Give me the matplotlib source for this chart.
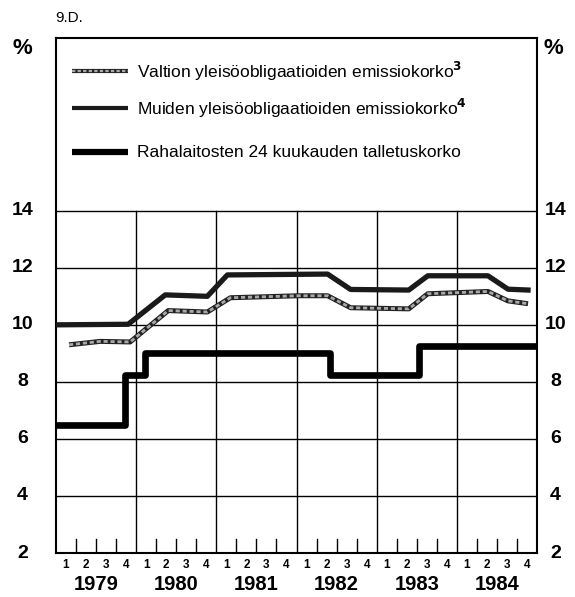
import matplotlib
matplotlib.use("Agg")
import matplotlib.pyplot as plt
import numpy as np

plt.rcParams['font.family'] = ['Liberation Sans', 'DejaVu Sans']

# x positions are in quarters counted from the start of 1979
years = ['1979', '1980', '1981', '1982', '1983', '1984']
quarter_labels = ['1', '2', '3', '4']

valtion_x = [0.65, 2.2, 3.7, 5.6, 7.55, 8.7, 12.1, 13.55, 14.7, 17.6, 18.55, 21.55, 22.55, 23.55]
valtion_y = [9.3, 9.42, 9.4, 10.5, 10.45, 10.95, 11.02, 11.02, 10.6, 10.56, 11.09, 11.17, 10.84, 10.74]

muiden_x = [0, 3.6, 5.45, 7.55, 8.55, 13.55, 14.7, 17.6, 18.55, 21.55, 22.55, 23.55]
muiden_y = [10.0, 10.02, 11.05, 11.0, 11.75, 11.78, 11.24, 11.22, 11.72, 11.72, 11.25, 11.22]

raha_x = [0, 3.45, 4.45, 13.65, 18.1, 24]
raha_y = [6.5, 8.25, 9.0, 8.25, 9.25, 9.25]

labels = ['Valtion yleisöobligaatioiden emissiokorko$^{\\mathbf{3}}$',
          'Muiden yleisöobligaatioiden emissiokorko$^{\\mathbf{4}}$',
          'Rahalaitosten 24 kuukauden talletuskorko']
yticks = [2, 4, 6, 8, 10, 12, 14]

fig = plt.figure(figsize=(5.75, 5.97), dpi=100)
ax = fig.add_axes([0.0974, 0.0737, 0.8366, 0.8623])
ymax = 20.05
ax.set_xlim(0, 24)
ax.set_ylim(2, ymax)

# grid
for y in yticks[1:]:
    ax.axhline(y, color='black', lw=1.0, zorder=1)
for i in range(1, len(years)):
    ax.plot([i * 4, i * 4], [2, 14], color='black', lw=1.0, zorder=1)
for i in range(len(years)):
    for q in range(1, 4):
        ax.plot([i * 4 + q, i * 4 + q], [2, 2.5], color='black', lw=1.0, zorder=1)

# series
ax.plot(valtion_x, valtion_y, color='#222222', lw=3.6, solid_capstyle='butt', zorder=3)
ax.plot(valtion_x, valtion_y, color='#a8a8a8', lw=2.0, ls=(0, (1.5, 1)), zorder=4)
ax.plot(muiden_x, muiden_y, color='#1a1a1a', lw=3.8, zorder=3)
ax.step(raha_x, raha_y, where='post', color='black', lw=4.8, zorder=5)

# legend drawn by hand inside the box
leg_y = [18.9, 17.6, 16.05]
for k, ly in enumerate(leg_y):
    xs = [0.8, 3.6]
    if k == 0:
        ax.plot(xs, [ly, ly], color='#222222', lw=3.0, solid_capstyle='butt')
        ax.plot(xs, [ly, ly], color='#a8a8a8', lw=1.6, ls=(0, (1.5, 1)))
    elif k == 1:
        ax.plot(xs, [ly, ly], color='#1a1a1a', lw=3.0, solid_capstyle='butt')
    else:
        ax.plot(xs, [ly, ly], color='black', lw=4.5, solid_capstyle='butt')
    ax.text(4.05, ly, labels[k], fontsize=12.5, va='center', ha='left')

for s in ax.spines.values():
    s.set_linewidth(1.5)
ax.set_xticks([])
ax.set_yticks([])

# tick labels on both sides
for y in yticks:
    ax.text(-0.07, y, str(y), transform=ax.get_yaxis_transform(), ha='center', va='center',
            fontsize=14, fontweight='bold')
    ax.text(1.038, y, str(y), transform=ax.get_yaxis_transform(), ha='center', va='center',
            fontsize=14, fontweight='bold')
fig.text(22 / 575, 1 - 48 / 597, '%', ha='center', va='center', fontsize=16, fontweight='bold')
fig.text(553 / 575, 1 - 48 / 597, '%', ha='center', va='center', fontsize=16, fontweight='bold')
fig.text(55 / 575, 1 - 18 / 597, '9.D.', ha='left', va='center', fontsize=11)

for i, yr in enumerate(years):
    for q, ql in enumerate(quarter_labels):
        ax.text(i * 4 + q + 0.5, -0.024, ql, transform=ax.get_xaxis_transform(), ha='center', va='center',
                fontsize=8.5, fontweight='bold')
    ax.text(i * 4 + 2, -0.062, yr, transform=ax.get_xaxis_transform(), ha='center', va='center',
            fontsize=14.5, fontweight='bold')

fig.savefig('out.png', dpi=100)
